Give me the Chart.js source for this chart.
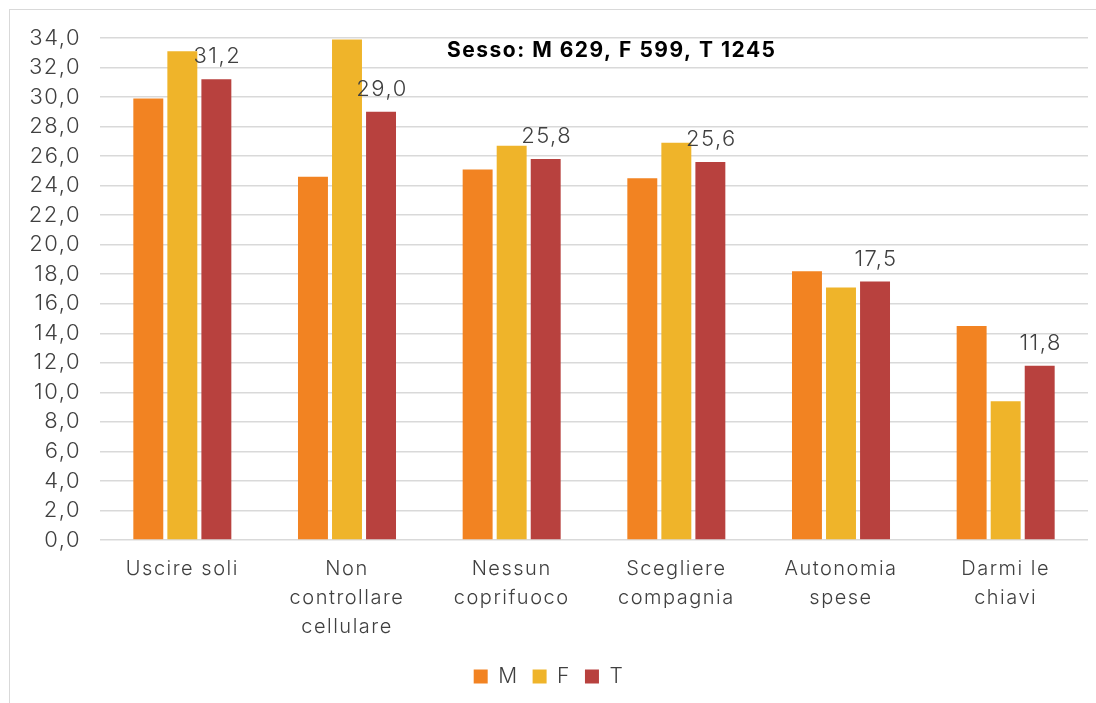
<!DOCTYPE html>
<html>
<head>
<meta charset="utf-8">
<script src="https://cdn.jsdelivr.net/npm/chart.js@4.4.1/dist/chart.umd.min.js"></script>
<style>
  html, body { margin: 0; padding: 0; background: #fff; }
  #wrap { position: relative; width: 1096px; height: 703px; overflow: hidden; }
  #frame { position: absolute; left: 9px; top: 9px; width: 1200px; height: 800px; border-left: 1px solid #d9d9d9; border-top: 1px solid #d9d9d9; }
  canvas { position: absolute; left: 0; top: 0; }
</style>
</head>
<body>
<div id="wrap">
  <div id="frame"></div>
  <canvas id="chart" width="1096" height="703"></canvas>
</div>
<script>
const categories = [
  'Uscire soli',
  ['Non', 'controllare', 'cellulare'],
  ['Nessun', 'coprifuoco'],
  ['Scegliere', 'compagnia'],
  ['Autonomia', 'spese'],
  ['Darmi le', 'chiavi']
];
const maleValues = [29.9, 24.6, 25.1, 24.5, 18.2, 14.5];
const femaleValues = [33.1, 33.9, 26.7, 26.9, 17.1, 9.4];
const totalValues = [31.2, 29.0, 25.8, 25.6, 17.5, 11.8];
const seriesNames = ['M', 'F', 'T'];
const subtitle = 'Sesso: M 629, F 599, T 1245';

const colors = { m: '#F28322', f: '#EFB42A', t: '#B8413E', text: '#404040', grid: '#d9d9d9' };
const fontFamily = 'Inter, "Open Sans", sans-serif';

function fmt(v) {
  return v.toFixed(1).replace('.', ',');
}

// the original font is wide (Gotham-like), so space the letters a bit
const wideText = {
  id: 'wideText',
  beforeUpdate(chart) { chart.ctx.letterSpacing = '1.5px'; },
  beforeDraw(chart) { chart.ctx.letterSpacing = '1.5px'; }
};

const totalLabels = {
  id: 'totalLabels',
  afterDatasetsDraw(chart) {
    const ctx = chart.ctx;
    const meta = chart.getDatasetMeta(2);
    ctx.save();
    ctx.fillStyle = colors.text;
    ctx.font = '300 22px ' + fontFamily;
    ctx.textAlign = 'center';
    ctx.textBaseline = 'alphabetic';
    meta.data.forEach((bar, i) => {
      ctx.fillText(fmt(totalValues[i]), bar.x + 1, bar.y - 16);
    });
    ctx.restore();
  }
};

const sampleTitle = {
  id: 'sampleTitle',
  afterDraw(chart) {
    const { ctx, chartArea } = chart;
    ctx.save();
    ctx.fillStyle = '#000';
    ctx.font = 'bold 21px ' + fontFamily;
    ctx.textAlign = 'center';
    ctx.textBaseline = 'middle';
    ctx.fillText(subtitle, chartArea.left + chartArea.width * 0.518, chartArea.top + 13);
    ctx.restore();
  }
};

new Chart(document.getElementById('chart'), {
  type: 'bar',
  data: {
    labels: categories,
    datasets: [
      { label: seriesNames[0], data: maleValues, backgroundColor: colors.m },
      { label: seriesNames[1], data: femaleValues, backgroundColor: colors.f },
      { label: seriesNames[2], data: totalValues, backgroundColor: colors.t }
    ]
  },
  options: {
    responsive: false,
    animation: false,
    datasets: { bar: { categoryPercentage: 0.62, barPercentage: 0.88 } },
    layout: { padding: { left: 10, right: 8, top: 38, bottom: 6 } },
    plugins: {
      legend: {
        position: 'bottom',
        labels: { color: colors.text, font: { family: fontFamily, size: 21, weight: '300' }, boxWidth: 14, boxHeight: 14, padding: 14 }
      },
      tooltip: { enabled: false }
    },
    scales: {
      x: {
        grid: { display: false },
        border: { display: false },
        ticks: {
          color: colors.text,
          font: { family: fontFamily, size: 20, weight: '300', lineHeight: 1.45 },
          padding: 6,
          autoSkip: false,
          maxRotation: 0
        },
        afterFit(scale) { scale.height = 112; }
      },
      y: {
        min: 0,
        max: 34,
        grid: { color: colors.grid, lineWidth: 1.5, drawTicks: false },
        border: { display: false },
        ticks: {
          stepSize: 2,
          autoSkip: false,
          color: colors.text,
          font: { family: fontFamily, size: 22, weight: '300' },
          padding: 19,
          callback: (v) => fmt(v)
        },
        afterFit(scale) { scale.width = 90; }
      }
    }
  },
  plugins: [wideText, totalLabels, sampleTitle]
});
</script>
</body>
</html>
